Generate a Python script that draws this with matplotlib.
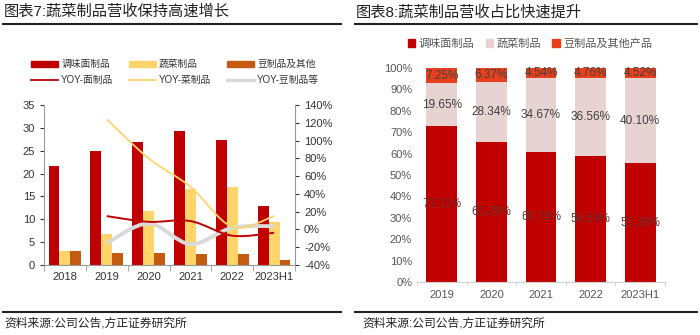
import numpy as np
import matplotlib
matplotlib.use("Agg")
import matplotlib.pyplot as plt
from matplotlib.path import Path
from matplotlib.patches import PathPatch, Patch
from matplotlib.lines import Line2D

plt.rcParams['font.family'] = ['Liberation Sans', 'Noto Sans CJK SC', 'DejaVu Sans']

# ---- data: chart 7 ----
years7 = ['2018', '2019', '2020', '2021', '2022', '2023H1']
noodle = [21.7, 24.9, 27.0, 29.3, 27.3, 13.0]
veg = [3.1, 6.7, 11.8, 16.7, 17.0, 9.3]
bean = [3.0, 2.6, 2.7, 2.3, 2.3, 1.2]
yoy_noodle = [15.0, 8.6, 9.4, -7.0, -3.7]
yoy_veg = [124.0, 80.0, 48.0, 3.0, 15.0]
yoy_bean = [-15.5, 6.7, -16.5, 1.9, 3.7]

# ---- data: chart 8 ----
years8 = ['2019', '2020', '2021', '2022', '2023H1']
share_noodle = [73.11, 65.29, 60.79, 58.69, 55.38]
share_veg = [19.65, 28.34, 34.67, 36.56, 40.10]
share_bean = [7.25, 6.37, 4.54, 4.76, 4.52]

RED = '#C00000'
YEL = '#FFD56B'
BRN = '#C55A11'
GRY = '#D9D9D9'
PINK = '#E8D3D3'
ORG = '#E8401C'
TXT = '#404040'

W, H = 700, 335
fig = plt.figure(figsize=(7, 3.35), dpi=100)


def fx(px):
    return px / W


def fy(py):
    return 1 - py / H


def smooth(ax, xs, ys, **kw):
    # catmull-rom drawn as cubic bezier segments
    pts = np.column_stack([xs, ys]).astype(float)
    verts = [pts[0]]
    codes = [Path.MOVETO]
    n = len(pts)
    for i in range(n - 1):
        p0 = pts[max(i - 1, 0)]
        p1 = pts[i]
        p2 = pts[i + 1]
        p3 = pts[min(i + 2, n - 1)]
        c1 = p1 + (p2 - p0) / 6
        c2 = p2 - (p3 - p1) / 6
        verts += [c1, c2, p2]
        codes += [Path.CURVE4] * 3
    ax.add_patch(PathPatch(Path(verts, codes), fill=False, **kw))


# titles / rules
fig.text(fx(4), fy(12), '图表7:蔬菜制品营收保持高速增长', fontsize=11, va='center', color='#222222')
fig.text(fx(356), fy(12), '图表8:蔬菜制品营收占比快速提升', fontsize=11, va='center', color='#222222')
for x0, x1 in [(3, 341), (355, 697)]:
    fig.add_artist(Line2D([fx(x0), fx(x1)], [fy(24), fy(24)], color='#222222', lw=1.5))
    fig.add_artist(Line2D([fx(x0), fx(x1)], [fy(312), fy(312)], color='#222222', lw=1.5))
fig.text(fx(4), fy(324), '资料来源:公司公告,方正证券研究所', fontsize=8.5, va='center', color='#222222')
fig.text(fx(362), fy(324), '资料来源:公司公告,方正证券研究所', fontsize=8.5, va='center', color='#222222')

# ---- chart 7 ----
ax = fig.add_axes([fx(44), fy(265), fx(251), fy(105) - fy(265)])
x = np.arange(len(years7))
bw = 0.26
ax.bar(x - bw, noodle, bw, color=RED, zorder=2)
ax.bar(x, veg, bw, color=YEL, zorder=2)
ax.bar(x + bw, bean, bw, color=BRN, zorder=2)
ax.set_xlim(-0.5, len(years7) - 0.5)
ax.set_ylim(0, 35)
ax.set_yticks(range(0, 36, 5))
ax.set_xticks(x)
ax.set_xticklabels(years7)
ax.tick_params(axis='x', length=0, labelsize=8, colors='#333333', pad=5)
ax.tick_params(axis='y', length=3, labelsize=8, colors='#333333', direction='out')
ax.set_xticks(np.arange(-0.5, len(years7), 1), minor=True)
ax.tick_params(axis='x', which='minor', length=4, color='#999999')
for s in ['top', 'right']:
    ax.spines[s].set_visible(False)
for s in ['left', 'bottom']:
    ax.spines[s].set_color('#999999')

ax2 = ax.twinx()
ax2.set_ylim(-40, 140)
ax2.set_yticks(range(-40, 141, 20))
ax2.set_yticklabels([f'{v}%' for v in range(-40, 141, 20)])
ax2.tick_params(axis='y', length=3, labelsize=8, colors='#333333')
for s in ['top', 'left', 'bottom']:
    ax2.spines[s].set_visible(False)
ax2.spines['right'].set_color('#999999')
ax2.set_xlim(-0.5, len(years7) - 0.5)
xl = x[1:]
smooth(ax2, xl, yoy_bean, edgecolor=GRY, lw=2.8, zorder=3)
smooth(ax2, xl, yoy_veg, edgecolor=YEL, lw=1.3, zorder=4)
smooth(ax2, xl, yoy_noodle, edgecolor=RED, lw=1.4, zorder=5)

handles = [Patch(color=RED), Line2D([], [], color=RED, lw=1.3),
           Patch(color=YEL), Line2D([], [], color=YEL, lw=1.3),
           Patch(color=BRN), Line2D([], [], color=GRY, lw=2.5)]
labels = ['调味面制品', 'YOY-面制品', '蔬菜制品', 'YOY-菜制品', '豆制品及其他', 'YOY-豆制品等']
fig.legend(handles, labels, ncol=3, loc='center', bbox_to_anchor=(fx(175), fy(72)),
           frameon=False, fontsize=7, handlelength=2.8, handleheight=0.6,
           columnspacing=1.6, labelspacing=0.6, handletextpad=0.3, labelcolor='#333333')

# ---- chart 8 ----
bx = fig.add_axes([fx(417), fy(282), fx(248), fy(68) - fy(282)])
x8 = np.arange(len(years8))
n_ = np.array(share_noodle) / 100
v_ = np.array(share_veg) / 100
b_ = np.array(share_bean) / 100
bx.bar(x8, n_, 0.62, color=RED)
bx.bar(x8, v_, 0.62, bottom=n_, color=PINK)
bx.bar(x8, b_, 0.62, bottom=n_ + v_, color=ORG)
for i in range(len(years8)):
    bx.text(i, n_[i] / 2, f'{share_noodle[i]:.2f}%', ha='center', va='center', fontsize=8.5, color='#6B3030')
    bx.text(i, n_[i] + v_[i] / 2, f'{share_veg[i]:.2f}%', ha='center', va='center', fontsize=8.5, color=TXT)
    bx.text(i, n_[i] + v_[i] + b_[i] / 2, f'{share_bean[i]:.2f}%', ha='center', va='center', fontsize=8.5, color=TXT)
bx.set_xlim(-0.5, len(years8) - 0.5)
bx.set_ylim(0, 1.0)
bx.set_yticks(np.arange(0, 1.01, 0.1))
bx.set_yticklabels([f'{int(round(v * 100))}%' for v in np.arange(0, 1.01, 0.1)])
bx.set_xticks(x8)
bx.set_xticklabels(years8)
bx.tick_params(axis='both', length=0, labelsize=8, colors='#555555')
bx.tick_params(axis='x', pad=6)
bx.set_xticks(np.arange(-0.5, len(years8), 1), minor=True)
bx.tick_params(axis='x', which='minor', length=3, color='#D0D0D0')
for s in ['top', 'right', 'left']:
    bx.spines[s].set_visible(False)
bx.spines['bottom'].set_color('#D0D0D0')

h8 = [Patch(color=RED), Patch(color=PINK), Patch(color=ORG)]
l8 = ['调味面制品', '蔬菜制品', '豆制品及其他产品']
fig.legend(h8, l8, ncol=3, loc='center', bbox_to_anchor=(fx(530), fy(44)),
           frameon=False, fontsize=8, handlelength=0.7, handleheight=0.7,
           columnspacing=1.0, handletextpad=0.3, labelcolor='#555555')

fig.savefig('out.png', dpi=100)
